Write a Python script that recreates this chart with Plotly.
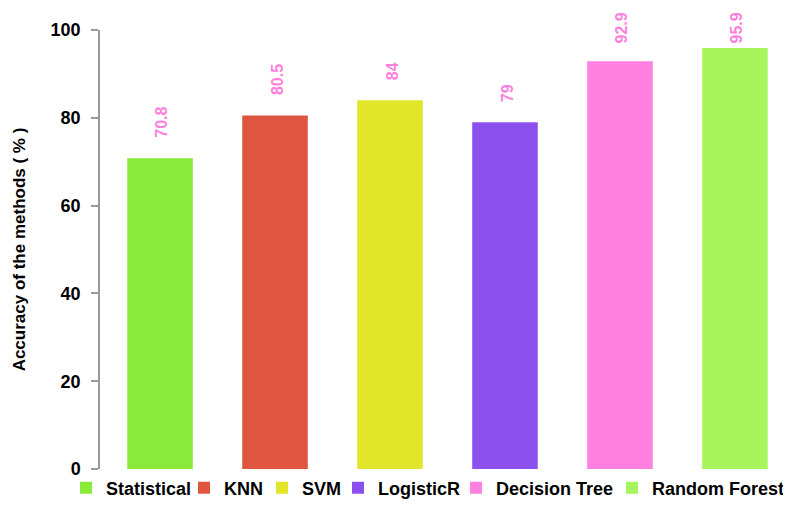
import plotly.graph_objects as go

methods = ["Statistical", "KNN", "SVM", "LogisticR", "Decision Tree", "Random Forest"]
accuracy = [70.8, 80.5, 84, 79, 92.9, 95.9]
labels = ["70.8", "80.5", "84", "79", "92.9", "95.9"]
colors = ["#8aea3a", "#e0553f", "#e1e62a", "#8c50ee", "#ff80e0", "#a6f55c"]
y_ticks = [0, 20, 40, 60, 80, 100]

# left pixel position (within the figure) of each legend entry's text (layout only)
legend_text_px = [98, 216, 294, 370, 488, 644]

FONT = "Liberation Sans, Arial, sans-serif"
L, R, T, B, W, H = 92, 0, 22, 68, 791, 529
PW, PH = W - L - R, H - T - B
LABEL_GAP = 18      # px between bar top and its label
LABEL_MIN_BOTTOM = 37  # labels are kept from running off the top edge

fig = go.Figure()
legend_layouts = {}
for i, (m, v, c) in enumerate(zip(methods, accuracy, colors)):
    lname = "legend" if i == 0 else f"legend{i + 1}"
    fig.add_trace(go.Bar(
        x=[m], y=[v], name=m, marker=dict(color=c, line=dict(width=0)),
        width=0.57, showlegend=True, legend=lname,
    ))
    left_px = legend_text_px[i] - 40
    legend_layouts[lname] = dict(
        orientation="h", x=(left_px - L) / PW, xanchor="left",
        y=-(480 - (T + PH)) / PH, yanchor="middle",
        font=dict(family=FONT, size=18, color="black", weight="bold"),
        itemwidth=30, bgcolor="rgba(0,0,0,0)", borderwidth=0,
    )

for m, v, t in zip(methods, accuracy, labels):
    top_px = T + PH * (1 - v / 100.0)
    bottom_px = max(top_px - LABEL_GAP, LABEL_MIN_BOTTOM)
    fig.add_annotation(
        x=m, y=v, text=t, textangle=-90, showarrow=False,
        yanchor="bottom", xanchor="center", yshift=top_px - bottom_px, xshift=2,
        font=dict(family=FONT, size=16, color="#ff7fdc", weight="bold"),
    )

fig.update_layout(
    width=W, height=H,
    margin=dict(l=L, r=R, t=T, b=B, autoexpand=False),
    paper_bgcolor="white", plot_bgcolor="white",
    barmode="overlay",
    font=dict(family=FONT, color="black"),
    xaxis=dict(
        categoryorder="array", categoryarray=methods,
        range=[-0.522, 5.557], showticklabels=False, showline=False,
        showgrid=False, zeroline=False, ticks="", automargin=False,
    ),
    yaxis=dict(
        range=[0, 100], tickvals=y_ticks, showgrid=False, zeroline=False,
        showline=True, linecolor="#999999", linewidth=1.5,
        ticks="outside", ticklen=7, tickcolor="#999999", tickwidth=1.5,
        ticklabelstandoff=7, automargin=False,
        tickfont=dict(family=FONT, size=18, color="black", weight="bold"),
        title=dict(text="Accuracy of the methods ( % )", standoff=21,
                   font=dict(family=FONT, size=17, color="black", weight="bold")),
    ),
    **legend_layouts,
)

fig.write_html("out.html")
